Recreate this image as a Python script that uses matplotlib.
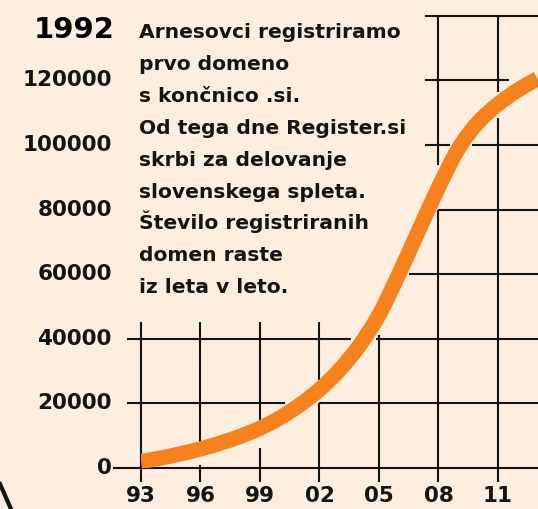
import matplotlib
matplotlib.use("Agg")
import numpy as np
import matplotlib.pyplot as plt
from matplotlib.lines import Line2D
from matplotlib.path import Path
from matplotlib.patches import PathPatch

# ---- data ----
years = [1993, 1994, 1995, 1996, 1997, 1998, 1999, 2000, 2001, 2002, 2003,
         2004, 2005, 2006, 2007, 2008, 2009, 2010, 2011, 2012, 2013]
domains = [2000, 3100, 4400, 5900, 7700, 9800, 12300, 15500, 19500, 24300, 30300,
           37800, 47400, 60000, 73500, 86800, 98800, 107000, 112600, 117000, 120500]
x_ticks = [1993, 1996, 1999, 2002, 2005, 2008, 2011]
x_tick_labels = ["93", "96", "99", "02", "05", "08", "11"]
y_ticks = [0, 20000, 40000, 60000, 80000, 100000, 120000]
y_tick_labels = ["0", "20000", "40000", "60000", "80000", "100000", "120000"]
title_year = "1992"
paragraph = ["Arnesovci registriramo", "prvo domeno", "s končnico .si.",
             "Od tega dne Register.si", "skrbi za delovanje",
             "slovenskega spleta.", "Število registriranih",
             "domen raste", "iz leta v leto."]

# hand-drawn grid pieces (value, from-year, to-year) and (year, from-value, to-value)
h_grid = [(0, 1991.6, 2013.2),
          (20000, 1992.3, 2000.26), (20000, 2002.0, 2013.2),
          (40000, 1992.3, 2003.6), (40000, 2004.85, 2013.2),
          (60000, 2006.5, 2013.2),
          (80000, 2008.0, 2013.2),
          (100000, 2007.3, 2008.6), (100000, 2009.7, 2013.2),
          (120000, 2007.3, 2011.55),
          (140000, 2007.3, 2013.2)]
v_grid = [(1993, 45200, -4300),
          (1996, 45200, 7700), (1996, 900, -4300),
          (1999, 45200, 14200), (1999, 6200, -4300),
          (2002, 45200, 27200), (2002, 20100, -4300),
          (2005, 41200, -4300),
          (2008, 139600, 93800), (2008, 79900, -4300),
          (2011, 139600, 116400), (2011, 108400, -4300)]

# ---- style ----
W, H = 538, 509
BG = "#FDEEDF"
ORANGE = "#F5821F"
INK = "#141414"
FONT = "DejaVu Sans"

fig = plt.figure(figsize=(W / 100, H / 100), dpi=100)
fig.patch.set_facecolor(BG)

left_px, right_px, zero_px, px_per_20k = 141, 538, 468, 64.6
top_val = 140000
top_px = zero_px - top_val / 20000 * px_per_20k
ax = fig.add_axes([left_px / W, (H - zero_px) / H,
                   (right_px - left_px) / W, (zero_px - top_px) / H])
ax.set_facecolor("none")
ax.set_xlim(1993, 1993 + (right_px - left_px) / 19.83)
ax.set_ylim(0, top_val)
for s in ax.spines.values():
    s.set_visible(False)

lw_grid = 1.5
for val, x0, x1 in h_grid:
    ax.plot([x0, x1], [val, val], color=INK, lw=lw_grid, solid_capstyle="butt",
            clip_on=False, zorder=2)
for yr, y0, y1 in v_grid:
    ax.plot([yr, yr], [y0, y1], color=INK, lw=lw_grid, solid_capstyle="butt",
            clip_on=False, zorder=2)

# smooth curve through the data points (Catmull-Rom as cubic Bezier segments)
pts = np.column_stack([years, domains]).astype(float)
verts = [tuple(pts[0])]
codes = [Path.MOVETO]
n = len(pts)
for i in range(n - 1):
    p0 = pts[i - 1] if i > 0 else pts[i]
    p1 = pts[i]
    p2 = pts[i + 1]
    p3 = pts[i + 2] if i + 2 < n else pts[i + 1]
    c1 = p1 + (p2 - p0) / 6.0
    c2 = p2 - (p3 - p1) / 6.0
    verts += [tuple(c1), tuple(c2), tuple(p2)]
    codes += [Path.CURVE4] * 3
curve = PathPatch(Path(verts, codes), facecolor="none", edgecolor=ORANGE,
                  lw=11, capstyle="butt", joinstyle="round", zorder=3)
ax.add_patch(curve)

ax.set_xticks(x_ticks)
ax.set_xticklabels(x_tick_labels)
ax.set_yticks(y_ticks)
ax.set_yticklabels(y_tick_labels)
ax.tick_params(axis="both", length=0, colors=INK)
ax.tick_params(axis="x", pad=13)
ax.tick_params(axis="y", pad=21)
for lab in ax.get_xticklabels() + ax.get_yticklabels():
    lab.set_fontfamily(FONT)
    lab.set_fontweight("bold")
    lab.set_fontsize(15.5)
    lab.set_color(INK)
for lab in ax.get_yticklabels():
    lab.set_verticalalignment("center")

# header year
fig.text(115 / W, 1 - 38 / H, title_year, ha="right", va="baseline",
         fontfamily=FONT, fontweight="bold", fontsize=21, color="#000000")

# paragraph
for i, line in enumerate(paragraph):
    fig.text(139 / W, 1 - (38 + i * 31.9) / H, line, ha="left", va="baseline",
             fontfamily=FONT, fontweight="bold", fontsize=14.6, color=INK)

# decorative stroke bottom-left
fig.add_artist(Line2D([0 / W, 11 / W], [1 - 484 / H, 1 - 509 / H],
                      transform=fig.transFigure, color=INK, lw=3))

fig.savefig("out.png", dpi=100, facecolor=BG)
